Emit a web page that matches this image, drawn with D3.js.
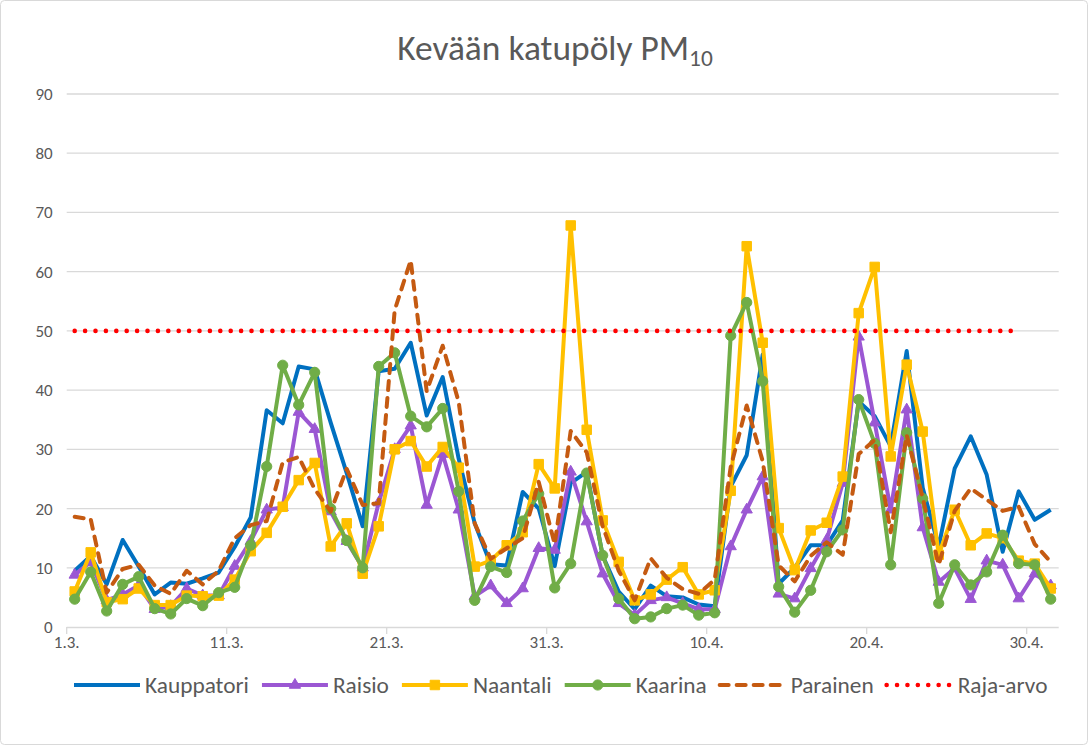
<!DOCTYPE html>
<html><head><meta charset="utf-8">
<script src="https://cdn.jsdelivr.net/npm/d3@7"></script>
<style>
body{margin:0;background:#fff;}
svg{display:block;}
text{font-family: Carlito, Calibri, Lato, "Open Sans", sans-serif; fill:#595959;}
.axislab{font-size:18px;}
</style>
</head><body>
<svg id="chart" width="1088" height="745"></svg>
<script>
// ---------- DATA ----------
const categories = [
 "1.3.","2.3.","3.3.","4.3.","5.3.","6.3.","7.3.","8.3.","9.3.","10.3.",
 "11.3.","12.3.","13.3.","14.3.","15.3.","16.3.","17.3.","18.3.","19.3.","20.3.",
 "21.3.","22.3.","23.3.","24.3.","25.3.","26.3.","27.3.","28.3.","29.3.","30.3.",
 "31.3.","1.4.","2.4.","3.4.","4.4.","5.4.","6.4.","7.4.","8.4.","9.4.",
 "10.4.","11.4.","12.4.","13.4.","14.4.","15.4.","16.4.","17.4.","18.4.","19.4.",
 "20.4.","21.4.","22.4.","23.4.","24.4.","25.4.","26.4.","27.4.","28.4.","29.4.",
 "30.4.","1.5."];
const tickLabels = ["1.3.","11.3.","21.3.","31.3.","10.4.","20.4.","30.4."];
const yTicks = [0,10,20,30,40,50,60,70,80,90];

const kauppatori = [9.5,12,7.2,14.7,10.2,5.5,7.5,7.3,8.2,9.2,
 13.5,18.5,36.6,34.4,44,43.5,34.5,26,17,43.2,
 43.6,48,35.7,42.2,28.4,17.5,10.6,10.4,22.8,20,
 10.3,24.3,26.2,12,6,3,7,5.2,5,3.8,
 3.5,23.7,29,46,7.3,10,13.8,13.8,18,38.1,
 35.6,30.5,46.6,23.5,13.6,26.8,32.2,25.7,12.7,22.9,
 18.1,19.8];
const raisio = [8.8,11,4.5,5.5,7,3,3.5,6.5,5.3,5.3,
 10.3,14.5,19.8,20.2,36.3,33.4,19.5,14.5,10,21,
 30,34,20.6,29.2,19.8,5.2,7,4,6.5,13.3,
 13,26.2,17.8,9,4,2,4.5,5,4,3,
 3,13.6,19.8,25.4,5.6,4.8,9.9,14.7,24.3,49,
 34.5,19.8,36.7,16.8,7.6,9.9,4.7,11.2,10.5,4.8,
 9,7];
const naantali = [6,12.6,4.2,4.7,6.5,3.7,3.7,5.3,5.2,5.3,
 8,12.8,15.9,20.3,24.8,27.7,13.6,17.5,9,17,
 30,31.4,27.1,30.4,26.9,10.2,11.2,13.8,16,27.5,
 23.4,67.8,33.3,18,11,4.5,5.5,8,10.1,5.5,
 6.2,23,64.3,48,16.7,9.6,16.3,17.6,25.4,53,
 60.8,28.8,44.3,33,12.2,19.8,13.8,15.8,15,11.2,
 10.7,6.5];
const kaarina = [4.7,9.3,2.7,7.2,8.5,3.1,2.2,4.8,3.6,5.8,
 6.7,13.8,27.1,44.2,37.5,43,20,14.6,10,44,
 46.3,35.6,33.8,36.9,22.9,4.5,10.2,9.2,17.9,22.5,
 6.6,10.7,26,12.1,4.8,1.4,1.7,3.1,3.7,2,
 2.4,49.2,54.8,41.5,6.8,2.5,6.2,12.7,16.4,38.4,
 31,10.5,32.8,21.7,4,10.5,7.1,9.3,15.5,10.7,
 10.5,4.7];
const parainen = [18.6,18.2,5.8,9.8,10.5,7,5.6,9.5,7.2,9.5,
 15,17.2,17.9,27.8,28.7,23.3,19.5,26.7,20.6,20.9,
 53.5,61.9,39.8,47.5,38,17.5,11.5,13.3,15,24.5,
 14,33.1,29.5,17,9.5,4.5,11.6,8.3,6.4,5.6,
 8,27,37.4,28,10.4,7.7,12,14.3,12.2,29.2,
 31.6,16,32.4,21.8,10.5,19.6,23.4,21.5,19.6,20.3,
 14,11];
const rajaArvo = [50,50,50,50,50,50,50,50,50,50,
 50,50,50,50,50,50,50,50,50,50,
 50,50,50,50,50,50,50,50,50,50,
 50,50,50,50,50,50,50,50,50,50,
 50,50,50,50,50,50,50,50,50,50,
 50,50,50,50,50,50,50,50,50,50];

const seriesNames = ["Kauppatori","Raisio","Naantali","Kaarina","Parainen","Raja-arvo"];
const seriesValues = [kauppatori, raisio, naantali, kaarina, parainen, rajaArvo];
const seriesColors = ["#0070C0","#9B57D3","#FFC000","#70AD47","#C55A11","#FF0000"];
const seriesMarkers = [null,"triangle","square","circle",null,null];
const seriesDash = [null,null,null,null,"9 8","0 10.4"];
const seriesWidth = [4,4,4,4,4,4.6];

// ---------- LAYOUT ----------
const svg = d3.select("#chart");
const W = 1088, H = 745;
const plot = {left: 66.7, right: 1058.7, top: 94, bottom: 627};

svg.append("rect").attr("x",0.5).attr("y",0.5).attr("width",W-1).attr("height",H-1)
  .attr("rx",4).attr("fill","#fff").attr("stroke","#d9d9d9");

function fitSize(str, target, base){
  const t = svg.append("text").style("font-size", base+"px").text(str);
  const w = t.node().getComputedTextLength();
  t.remove();
  return base*target/w;
}

const x = d3.scaleBand().domain(categories).range([plot.left, plot.right]).padding(0);
const bw = x.bandwidth();
const y = d3.scaleLinear().domain([0,90]).range([plot.bottom, plot.top]);

// gridlines
svg.append("g").selectAll("line").data(yTicks.filter(d=>d>0)).join("line")
  .attr("x1",plot.left).attr("x2",plot.right)
  .attr("y1",d=>y(d)).attr("y2",d=>y(d))
  .attr("stroke","#d9d9d9").attr("stroke-width",1.3);

// x axis
const axisSize = 17;
const xAxis = d3.axisBottom(x).tickValues(tickLabels).tickSize(7).tickSizeOuter(0);
const gx = svg.append("g").attr("transform",`translate(0,${plot.bottom})`).call(xAxis);
gx.attr("font-size",axisSize).attr("font-family",null);
gx.select(".domain").attr("stroke","#d9d9d9").attr("stroke-width",1.3)
  .attr("d",`M${plot.left},0.5H${plot.right}`);
gx.selectAll(".tick").attr("transform", d=>`translate(${x(d)},0)`);
gx.selectAll(".tick line").attr("stroke","#d9d9d9").attr("stroke-width",1.3);
gx.selectAll(".tick text").attr("class","axislab").attr("y",9).attr("dy","0.71em")
  .attr("font-size",axisSize).style("font-size",axisSize+"px").attr("fill","#595959");

// y axis
const yAxis = d3.axisLeft(y).tickValues(yTicks).tickSize(0).tickPadding(14);
const gy = svg.append("g").attr("transform",`translate(${plot.left},0)`).call(yAxis);
gy.attr("font-size",axisSize).attr("font-family",null);
gy.select(".domain").remove();
gy.selectAll(".tick text").attr("class","axislab")
  .attr("font-size",axisSize).style("font-size",axisSize+"px").attr("fill","#595959");

// series
const cx = i => x(categories[i]) + bw/2;
function markerPath(type){
  if(type==="triangle") return d3.symbol(d3.symbolTriangle, 55)();
  if(type==="square") return d3.symbol(d3.symbolSquare, 90)();
  if(type==="circle") return d3.symbol(d3.symbolCircle, 82)();
  return null;
}
seriesValues.forEach((vals, s)=>{
  const g = svg.append("g");
  const line = d3.line().x((d,i)=>cx(i)).y(d=>y(d));
  const p = g.append("path").datum(vals).attr("d",line)
    .attr("fill","none").attr("stroke",seriesColors[s])
    .attr("stroke-width",seriesWidth[s]).attr("stroke-linejoin","round");
  if(seriesDash[s]) p.attr("stroke-dasharray",seriesDash[s]).attr("stroke-linecap","round");
  if(seriesMarkers[s]){
    g.selectAll("path.m").data(vals).join("path").attr("class","m")
      .attr("d",markerPath(seriesMarkers[s]))
      .attr("transform",(d,i)=>`translate(${cx(i)},${y(d)})`)
      .attr("fill",seriesColors[s]).attr("stroke",seriesColors[s]).attr("stroke-width",1);
  }
});

// title
const titleSize = fitSize("Kevään katupöly PM", 292, 30);
const title = svg.append("text").attr("x",555).attr("y",60).attr("text-anchor","middle")
  .style("font-size",titleSize+"px");
title.append("tspan").text("Kevään katupöly PM");
title.append("tspan").text("10").style("font-size",(titleSize*0.66)+"px").attr("dy",6);

// legend
const legSize = fitSize("Kauppatori", 104, 20);
const legY = 685;
const leg = svg.append("g");
let lx = 74;
seriesNames.forEach((name,s)=>{
  const g = leg.append("g");
  const ln = g.append("line").attr("x1",lx).attr("x2",lx+66).attr("y1",legY).attr("y2",legY)
    .attr("stroke",seriesColors[s]).attr("stroke-width",seriesWidth[s]);
  if(seriesDash[s]) ln.attr("stroke-dasharray",seriesDash[s]).attr("stroke-linecap","round");
  if(seriesMarkers[s]){
    g.append("path").attr("d",markerPath(seriesMarkers[s]))
      .attr("transform",`translate(${lx+33},${legY})`)
      .attr("fill",seriesColors[s]).attr("stroke",seriesColors[s]);
  }
  const t = g.append("text").attr("x",lx+71).attr("y",legY).attr("dy","0.35em")
    .style("font-size",legSize+"px").text(name);
  lx += 71 + t.node().getComputedTextLength() + 13;
});
</script>
</body></html>
